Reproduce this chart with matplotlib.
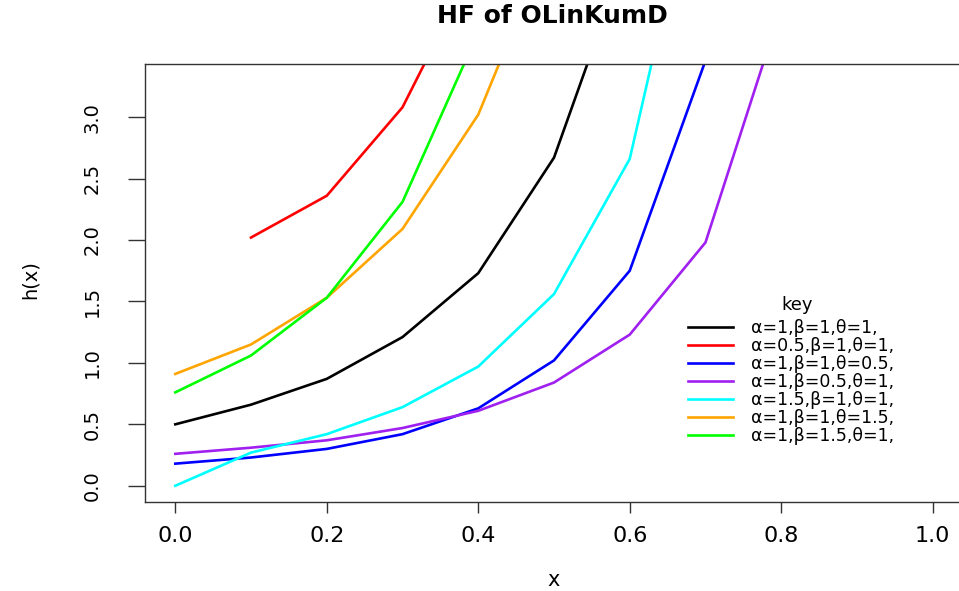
import numpy as np
import matplotlib
matplotlib.use('Agg')
import matplotlib.pyplot as plt

nan = np.nan

# x grid and hazard values
x_vals = [0.0, 0.1, 0.2, 0.3, 0.4, 0.5, 0.6, 0.7, 0.8, 0.9, 1.0]

h_a1_b1_t1 = [0.50, 0.66, 0.87, 1.21, 1.73, 2.67, 4.40]
h_a05_b1_t1 = [nan, 2.02, 2.36, 3.08, 4.30]
h_a1_b1_t05 = [0.18, 0.23, 0.30, 0.42, 0.63, 1.02, 1.75, 3.46]
h_a1_b05_t1 = [0.26, 0.31, 0.37, 0.47, 0.61, 0.84, 1.23, 1.98, 3.89]
h_a15_b1_t1 = [0.00, 0.27, 0.42, 0.64, 0.97, 1.56, 2.66, 5.35]
h_a1_b1_t15 = [0.91, 1.15, 1.53, 2.09, 3.02, 4.52]
h_a1_b15_t1 = [0.76, 1.06, 1.53, 2.31, 3.69]

labels = ['α=1,β=1,θ=1,', 'α=0.5,β=1,θ=1,', 'α=1,β=1,θ=0.5,',
          'α=1,β=0.5,θ=1,', 'α=1.5,β=1,θ=1,', 'α=1,β=1,θ=1.5,',
          'α=1,β=1.5,θ=1,']
colors = ['black', 'red', 'blue', '#A020F0', 'cyan', '#FFA500', '#00FF00']
series = [h_a1_b1_t1, h_a05_b1_t1, h_a1_b1_t05, h_a1_b05_t1,
          h_a15_b1_t1, h_a1_b1_t15, h_a1_b15_t1]

plt.rcParams['font.family'] = ['DejaVu Sans']

W, H = 959, 591
fig = plt.figure(figsize=(W / 100, H / 100), dpi=100)
# plot region runs past the right edge like the reference
ax = fig.add_axes([145 / W, 1 - 502 / H, 818 / W, 438 / H])

for ys, c, lab in zip(series, colors, labels):
    ax.plot(x_vals[:len(ys)], ys, color=c, lw=1.9, label=lab)

ax.set_xlim(-0.04, 1.04)
ax.set_ylim(-0.132, 3.432)
ax.set_xticks([0.0, 0.2, 0.4, 0.6, 0.8, 1.0])
ax.set_xticklabels(['0.0', '0.2', '0.4', '0.6', '0.8', '1.0'])
ax.set_yticks([0.0, 0.5, 1.0, 1.5, 2.0, 2.5, 3.0])
ax.set_yticklabels(['0.0', '0.5', '1.0', '1.5', '2.0', '2.5', '3.0'])

ax.tick_params(axis='x', length=8, width=1, labelsize=16, pad=9, colors='#333333', labelcolor='black')
ax.tick_params(axis='y', length=12, width=1, labelsize=14, pad=26, colors='#333333', labelcolor='black')
for t in ax.get_yticklabels():
    t.set_rotation(90)
    t.set_va('center')
    t.set_ha('center')

for s in ax.spines.values():
    s.set_linewidth(1)
    s.set_color('#333333')

fig.text(552 / W, 1 - 16 / H, 'HF of OLinKumD', ha='center', va='center',
         fontsize=18, fontweight='bold')
fig.text(554 / W, 1 - 580 / H, 'x', ha='center', va='center', fontsize=15)
fig.text(30 / W, 1 - 280 / H, 'h(x)', ha='center', va='center', fontsize=14, rotation=90)

# legend title drawn separately to get the gap of the reference
fig.text(797 / W, 1 - 305 / H, 'key', ha='center', va='center', fontsize=13)
leg = ax.legend(loc='upper left', bbox_to_anchor=(688 / W, 1 - 319 / H),
                bbox_transform=fig.transFigure, frameon=False,
                prop={'size': 12.5}, labelspacing=0.0,
                handlelength=2.6, handletextpad=1.05, borderpad=0, borderaxespad=0)

fig.savefig('out.png', dpi=100)
